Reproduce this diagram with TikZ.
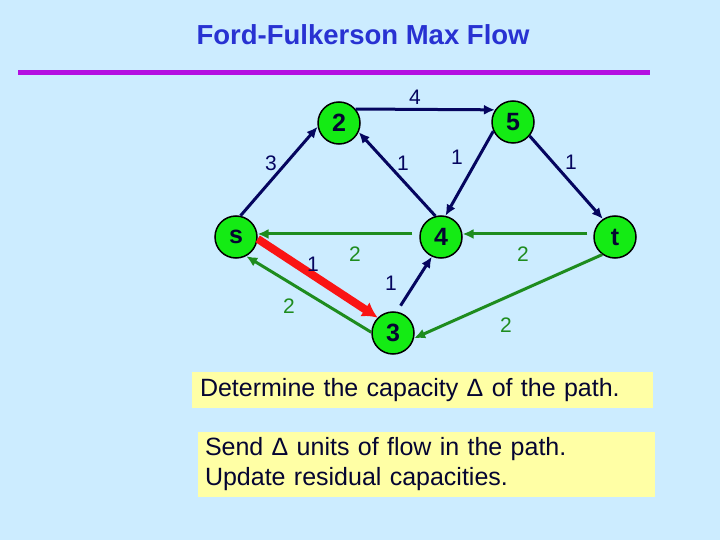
\documentclass[tikz,border=0pt]{standalone}
\usepackage{fontspec}
\setmainfont{Liberation Sans}
\usetikzlibrary{arrows.meta}

\definecolor{bgblue}{RGB}{204,236,255}
\definecolor{titleblue}{RGB}{40,50,210}
\definecolor{rulepurple}{RGB}{180,16,225}
\definecolor{nodegreen}{RGB}{20,235,20}
\definecolor{arcnavy}{RGB}{5,5,95}
\definecolor{arcgreen}{RGB}{30,140,30}
\definecolor{arcred}{RGB}{250,20,20}
\definecolor{boxyellow}{RGB}{255,255,165}
\definecolor{textnavy}{RGB}{5,5,50}

\begin{document}
\begin{tikzpicture}[x=1pt, y=-1pt, >={Latex[length=11pt,width=10pt]},
	vertex/.style={circle, fill=nodegreen, draw=black, line width=1.5pt, minimum size=42pt, inner sep=0pt, text=textnavy, font=\fontsize{25}{25}\bfseries\selectfont},
	fwd/.style={->, draw=arcnavy, line width=3pt},
	back/.style={->, draw=arcgreen, line width=3pt},
	aug/.style={-{Latex[length=15pt,width=17pt]}, draw=arcred, line width=8pt},
	capn/.style={text=arcnavy, font=\fontsize{21}{21}\selectfont},
	capg/.style={text=arcgreen, font=\fontsize{21}{21}\selectfont},
	note/.style={fill=boxyellow, text=textnavy, align=left, inner ysep=0pt, font=\fontsize{25}{30}\selectfont}]

	\fill[bgblue] (0,0) rectangle (720,540);
	\useasboundingbox (0,0) rectangle (720,540);

	\node[anchor=base west, text=titleblue, font=\fontsize{27.5}{27.5}\bfseries\selectfont](title) at (193,45) {Ford-Fulkerson Max Flow};
	\draw[rulepurple, line width=5pt] (18,72.5) -- (650,72.5);

	\node[vertex](s) at (236,237) {s};
	\node[vertex](n2) at (339,123) {2};
	\node[vertex](n5) at (513,122) {5};
	\node[vertex](n4) at (441,237) {4};
	\node[vertex](t) at (615,237) {t};
	\node[vertex](n3) at (393,333) {3};

	% residual arcs
	\draw[fwd] (s.78) -- (n2.190);
	\draw[fwd] (n2.40) -- (n5.146);
	\draw[fwd] (n4.105) -- (n2.-25);
	\draw[fwd] (n5.205) -- (n4.78);
	\draw[fwd] (n5.-40) -- (t.124);
	\draw[fwd, shorten <=7pt] (n3.80) -- (n4.-115);
	\draw[back, shorten <=7pt] (n4.172) -- (s.8);
	\draw[back] (n3.178) -- (s.-62);
	\draw[back, shorten <=6pt] (t.172) -- (n4.8);
	\draw[back] (t.-126) -- (n3.-14);

	% augmenting path
	\draw[aug] (s.-5) -- (n3.135);

	\node[capn](c25) at (415,97) {4};
	\node[capn](cs2) at (271,163) {3};
	\node[capn](c42) at (403,163) {1};
	\node[capn](c54) at (457,157) {1};
	\node[capn](c5t) at (571,162) {1};
	\node[capn](cs3) at (313,264) {1};
	\node[capn](c34) at (391,283) {1};
	\node[capg](c4s) at (355,254) {2};
	\node[capg](c3s) at (289,306) {2};
	\node[capg](ct4) at (523,254) {2};
	\node[capg](ct3) at (506,325) {2};

	\node[note, minimum width=461pt, minimum height=36pt, text width=445pt, inner xsep=8pt](step1) at (422.5,390) {Determine the capacity Δ of the path.};
	\node[note, minimum width=457pt, minimum height=65pt, text width=443pt, inner xsep=7pt](step2) at (426.5,464.5) {Send Δ units of flow in the path.\\Update residual capacities.};
\end{tikzpicture}
\end{document}
